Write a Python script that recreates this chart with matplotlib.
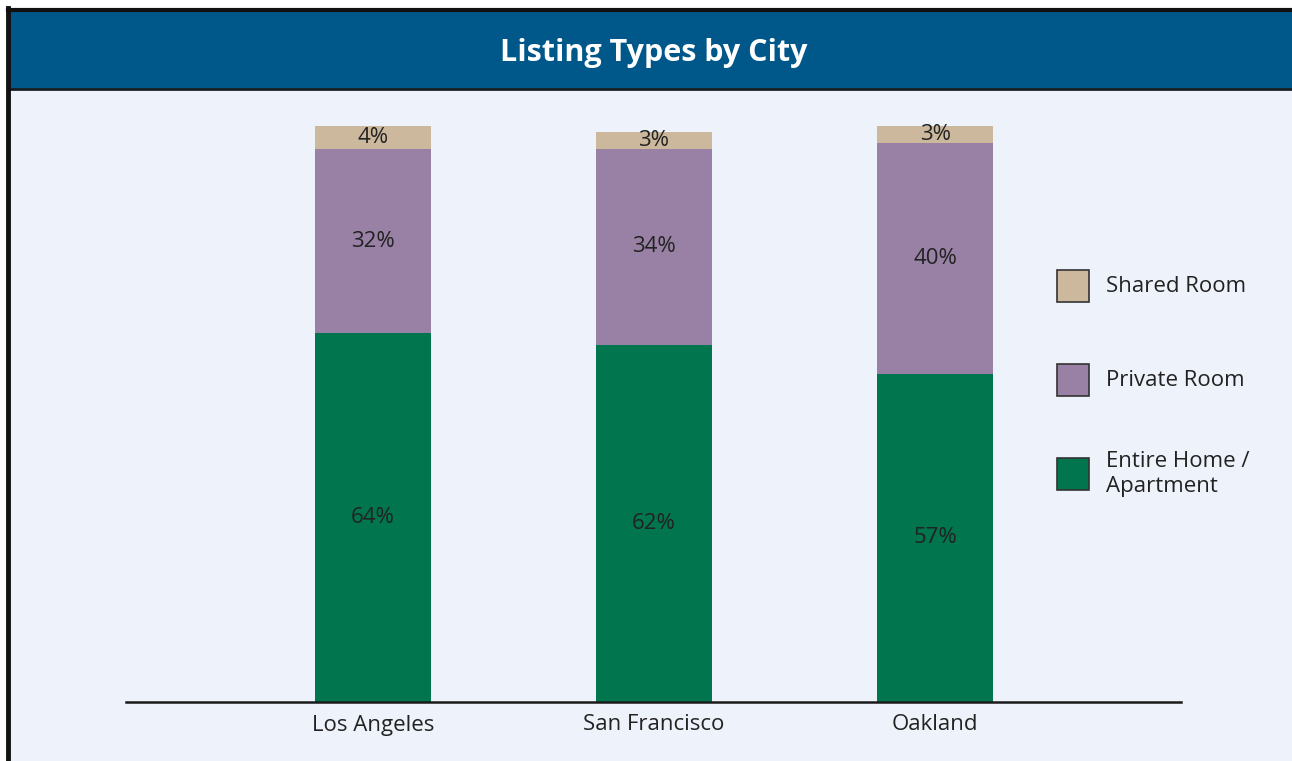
import matplotlib
matplotlib.use("Agg")
import matplotlib.pyplot as plt
from matplotlib.patches import Rectangle
import numpy as np

cities = ["Los Angeles", "San Francisco", "Oakland"]
entire_home = [64, 62, 57]
private_room = [32, 34, 40]
shared_room = [4, 3, 3]
series_names = ["Shared Room", "Private Room", "Entire Home /\nApartment"]

C_HEADER = "#00578A"
C_BG = "#EEF2FA"
C_SHARED = "#CBB89D"
C_PRIVATE = "#9881A4"
C_ENTIRE = "#00754E"
C_TEXT = "#222222"

plt.rcParams['font.family'] = ['Open Sans', 'DejaVu Sans']

W, H = 1292, 761
fig = plt.figure(figsize=(W / 100, H / 100), dpi=100)
fig.patch.set_facecolor("white")

def fx(px):
    return px / W

def fy(py):
    return 1 - py / H

# panel background
fig.patches.append(Rectangle((fx(8), 0), 1 - fx(8), fy(10), transform=fig.transFigure,
                             facecolor=C_BG, edgecolor="none", zorder=0))
# header
fig.patches.append(Rectangle((fx(8), fy(89)), 1 - fx(8), fy(10) - fy(89), transform=fig.transFigure,
                             facecolor=C_HEADER, edgecolor="none", zorder=1))
# borders
fig.add_artist(plt.Line2D([fx(8), 1], [fy(9.5), fy(9.5)], transform=fig.transFigure, color="#111111", lw=3, zorder=3))
fig.add_artist(plt.Line2D([fx(8), 1], [fy(89), fy(89)], transform=fig.transFigure, color="#1a1f26", lw=2, zorder=3))
fig.add_artist(plt.Line2D([fx(8), fx(8)], [0, fy(8)], transform=fig.transFigure, color="#111111", lw=3.5, zorder=3))

fig.text(fx(654), fy(53), "Listing Types by City", color="white", fontsize=22,
         fontweight="bold", ha="center", va="center", zorder=4)

# axes: baseline at y=702, top (100%) at y=126; x from 126 to 1181
ax = fig.add_axes([fx(126), fy(702), fx(1181) - fx(126), fy(126) - fy(702)])
ax.set_zorder(5)
ax.set_facecolor("none")
ax.set_xlim(-0.879, 2.875)
ax.set_ylim(0, 100)

x = np.arange(len(cities))
width = 0.413
e = np.array(entire_home)
p = np.array(private_room)
s = np.array(shared_room)
ax.bar(x, e, width, color=C_ENTIRE, clip_on=False)
ax.bar(x, p, width, bottom=e, color=C_PRIVATE, clip_on=False)
ax.bar(x, s, width, bottom=e + p, color=C_SHARED, clip_on=False)

FS = 16
for i in range(len(cities)):
    ax.text(x[i], e[i] / 2, f"{e[i]}%", ha="center", va="center", fontsize=FS, color=C_TEXT)
    ax.text(x[i], e[i] + p[i] / 2, f"{p[i]}%", ha="center", va="center", fontsize=FS, color=C_TEXT)
    ax.text(x[i], e[i] + p[i] + s[i] / 2, f"{s[i]}%", ha="center", va="center", fontsize=FS, color=C_TEXT)

for sp in ["top", "right", "left"]:
    ax.spines[sp].set_visible(False)
ax.spines["bottom"].set_color("#1a1a1a")
ax.spines["bottom"].set_linewidth(1.8)
ax.set_yticks([])
ax.set_xticks(x)
ax.set_xticklabels(cities, fontsize=FS, color=C_TEXT)
ax.tick_params(axis="x", length=0, pad=9)

# legend
leg_colors = [C_SHARED, C_PRIVATE, C_ENTIRE]
leg_y = [270, 364, 458]
for name, col, y0 in zip(series_names, leg_colors, leg_y):
    fig.patches.append(Rectangle((fx(1057), fy(y0 + 32)), fx(32), fy(y0) - fy(y0 + 32),
                                 transform=fig.transFigure, facecolor=col,
                                 edgecolor="#333333", lw=1.2, zorder=4))
    fig.text(fx(1106), fy(y0 + 16), name, fontsize=FS, color=C_TEXT, ha="left",
             va="center", linespacing=1.2, zorder=4)

fig.savefig("out.png", dpi=100, facecolor=fig.get_facecolor())
